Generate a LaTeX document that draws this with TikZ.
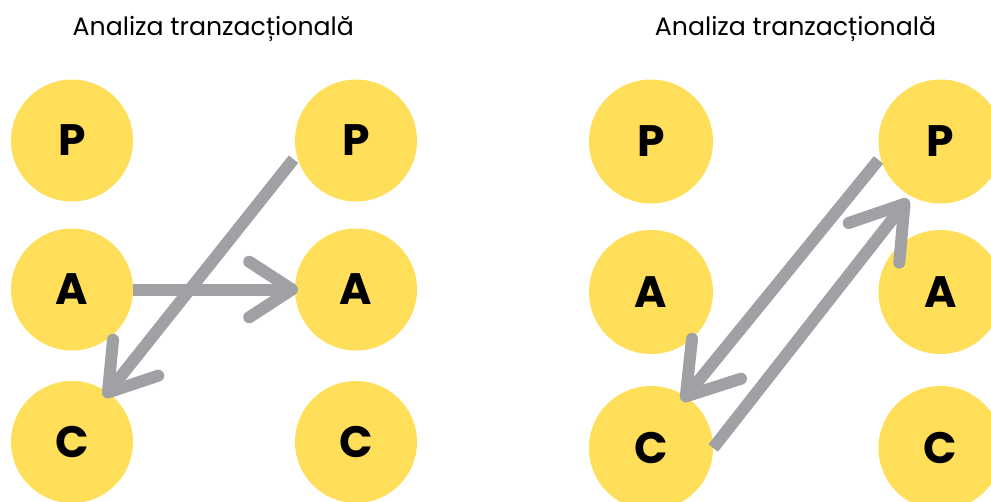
\documentclass[tikz,border=0pt]{standalone}
\usepackage{fontspec}
\setmainfont{Poppins}
\usetikzlibrary{calc}
\definecolor{yel}{HTML}{FFDE59}
\definecolor{arr}{HTML}{A0A1A5}
\begin{document}
\begin{tikzpicture}[x=1pt,y=-1pt,
  circ/.style={circle, fill=yel, inner sep=0pt, minimum size=122pt,
    font=\fontsize{44}{44}\selectfont\bfseries, text=black},
  circb/.style={circ, minimum size=124pt},
  title/.style={anchor=base, font=\fontsize{25.2}{25.2}\selectfont, text=black},
  shaft/.style={draw=arr, line width=12pt, line cap=butt},
  barb/.style={draw=arr, line width=12pt, line cap=round, line join=round}]
\useasboundingbox[fill=white] (0,0) rectangle (991,501);
% titles
\node[title] (t1) at (213.3,35.7) {Analiza tranzacțională};
\node[title] (t2) at (795.5,35.7) {Analiza tranzacțională};
% left panel
\node[circ] (pL) at (72,140.5) {P};
\node[circ] (aL) at (72,289.5) {A};
\node[circ] (cL) at (72,442) {C};
\node[circ] (pR) at (356,140.5) {P};
\node[circ] (aR) at (356,289.5) {A};
\node[circ] (cR) at (356,442) {C};
% right panel
\node[circb] (pL2) at (651,141.5) {P};
\node[circb] (aL2) at (651,292) {A};
\node[circb] (cL2) at (651,448) {C};
\node[circb] (pR2) at (940.5,141.5) {P};
\node[circb] (aR2) at (940.5,292) {A};
\node[circb] (cR2) at (940.5,448) {C};
% left arrows
\draw[shaft, shorten <=5pt] (pR.194) -- (cL.54);
\draw[barb] ($(cL.54)!53pt!33:(pR.194)$) -- (cL.54) -- ($(cL.54)!53pt!-33:(pR.194)$);
\coordinate (tH) at ($(aR.center)!64pt!(aR.west)$);
\draw[shaft] (aL.east) -- (tH);
\draw[barb] ($(tH)!51pt!33:(aL.east)$) -- (tH) -- ($(tH)!51pt!-33:(aL.east)$);
% right arrows
\draw[shaft, shorten <=3pt] (pR2.195) -- (cL2.56);
\draw[barb] ($(cL2.56)!58pt!33:(pR2.195)$) -- (cL2.56) -- ($(cL2.56)!58pt!-33:(pR2.195)$);
\coordinate (tB) at ($(pR2.center)!72pt!(pR2.240)$);
\draw[shaft] (cL2.east) -- (tB);
\draw[barb] ($(tB)!59pt!33:(cL2.east)$) -- (tB) -- ($(tB)!59pt!-33:(cL2.east)$);
\end{tikzpicture}
\end{document}
